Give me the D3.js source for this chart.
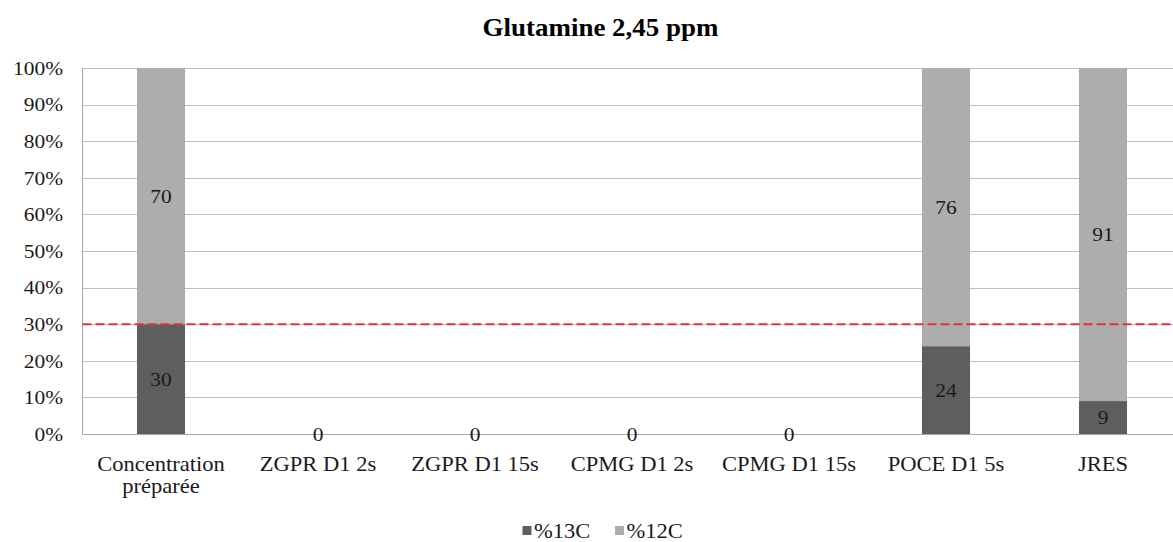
<!DOCTYPE html>
<html>
<head>
<meta charset="utf-8">
<script src="https://cdn.jsdelivr.net/npm/d3@7"></script>
<style>
  html, body { margin: 0; padding: 0; background: #fff; }
  svg { display: block; }
</style>
</head>
<body>
<div id="chart"></div>
<script>
// Glutamine 2,45 ppm: share of 13C / 12C by acquisition method
const categories = [
  ["Concentration", "préparée"],
  ["ZGPR D1 2s"],
  ["ZGPR D1 15s"],
  ["CPMG D1 2s"],
  ["CPMG D1 15s"],
  ["POCE D1 5s"],
  ["JRES"]
];
const pct13C = [30, 0, 0, 0, 0, 24, 9];
const pct12C = [70, 0, 0, 0, 0, 76, 91];
const yTicks = [0, 10, 20, 30, 40, 50, 60, 70, 80, 90, 100];
const refLine = 30;
const seriesNames = ["%13C", "%12C"];
const titleText = "Glutamine 2,45 ppm";

const W = 1173, H = 542;
const plot = { left: 82.5, right: 1181.5, top: 68, bottom: 434 };
const colors = { c13: "#5e5e5e", c12: "#adadad" };
const sx = 1.1; // glyph width factor for the serif text

const svg = d3.select("#chart").append("svg")
  .attr("width", W).attr("height", H);

function txt(g, x, y, s, opts = {}) {
  return g.append("text")
    .attr("transform", `translate(${x},${y}) scale(${sx},1)`)
    .attr("font-family", "Liberation Serif")
    .attr("text-anchor", opts.anchor || "middle")
    .attr("font-size", opts.size || 20)
    .attr("font-weight", opts.weight || null)
    .attr("dy", opts.dy || 0)
    .attr("fill", opts.fill || "#1a1a1a")
    .text(s);
}

const keys = categories.map((c, i) => i);
const x = d3.scaleBand().domain(keys)
  .range([plot.left, plot.right])
  .paddingInner(0.694).paddingOuter(0.347);
const y = d3.scaleLinear().domain([0, 100]).range([plot.bottom, plot.top]);

// gridlines
svg.append("g").selectAll("line").data(yTicks).join("line")
  .attr("x1", plot.left).attr("x2", plot.right)
  .attr("y1", d => Math.round(y(d)) + 0.5).attr("y2", d => Math.round(y(d)) + 0.5)
  .attr("stroke", d => d === 0 ? "#a6a6a6" : "#bfbfbf").attr("stroke-width", 1);

// left axis line
svg.append("line")
  .attr("x1", plot.left).attr("x2", plot.left)
  .attr("y1", y(100)).attr("y2", y(0))
  .attr("stroke", "#a6a6a6");

// y tick labels
const yg = svg.append("g");
yTicks.forEach(t => txt(yg, 63, y(t), t + "%", { anchor: "end", dy: "0.35em", size: 19.5 }));

// stacked bars
const stack = d3.stack().keys(["c13", "c12"]);
const rows = keys.map(i => ({ i, c13: pct13C[i], c12: pct12C[i] }));
const layers = stack(rows);
const barG = svg.append("g");
layers.forEach(layer => {
  barG.append("g").attr("fill", colors[layer.key])
    .selectAll("rect").data(layer).join("rect")
    .attr("x", d => x(d.data.i))
    .attr("width", x.bandwidth())
    .attr("y", d => y(d[1]))
    .attr("height", d => y(d[0]) - y(d[1]));
});

// reference line at 30 %
svg.append("line")
  .attr("x1", plot.left).attr("x2", plot.right)
  .attr("y1", y(refLine)).attr("y2", y(refLine))
  .attr("stroke", "#e2303f").attr("stroke-width", 2)
  .attr("stroke-dasharray", "9,4");

// data labels, centred in each segment
const lg = svg.append("g");
layers.forEach(layer => {
  layer.forEach(d => {
    const v = d.data[layer.key];
    if (layer.key === "c12" && v === 0) return;
    const cx = x(d.data.i) + x.bandwidth() / 2;
    txt(lg, cx, y((d[0] + d[1]) / 2), String(v), { dy: "0.35em", size: 19.5 });
  });
});

// category labels
const xg = svg.append("g");
categories.forEach((lines, i) => {
  const cx = x(i) + x.bandwidth() / 2;
  lines.forEach((s, k) => txt(xg, cx, 471 + k * 22, s, { size: 20.5 }));
});

// title
txt(svg, 600.5, 36, titleText, { size: 24.5, weight: "bold", fill: "#000" });

// legend
const leg = svg.append("g");
const legItems = [
  { name: seriesNames[0], color: colors.c13, sqX: 522.5 },
  { name: seriesNames[1], color: colors.c12, sqX: 615 }
];
legItems.forEach(it => {
  leg.append("rect").attr("x", it.sqX).attr("y", 526).attr("width", 9).attr("height", 9)
    .attr("fill", it.color);
  txt(leg, it.sqX + 11.5, 537.5, it.name, { anchor: "start", size: 20.5 });
});
</script>
</body>
</html>
